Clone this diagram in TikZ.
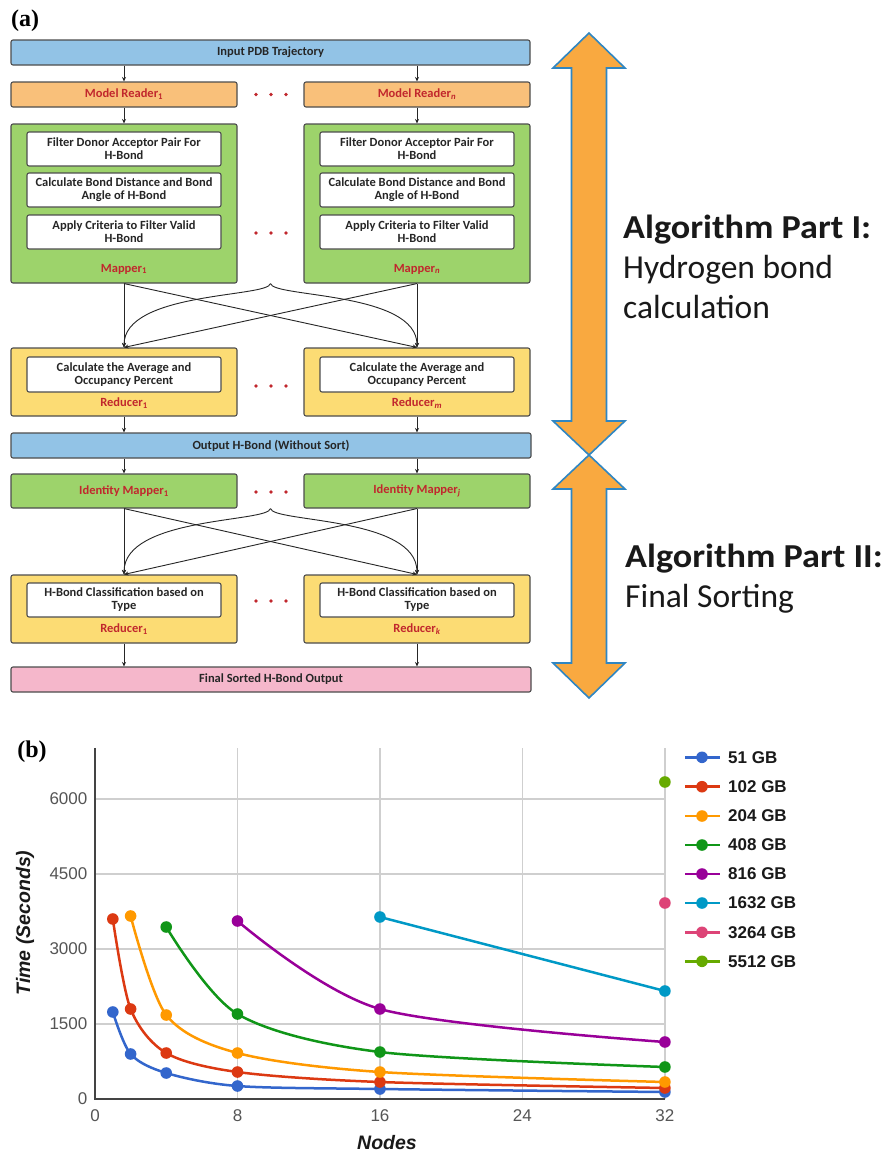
\documentclass[tikz,border=0pt]{standalone}
\usepackage{fontspec}
\setmainfont{Liberation Sans}
\newfontfamily\boxfont{Carlito}
\newfontfamily\algobf[FakeStretch=1.08]{Carlito Bold}
\newfontfamily\serfont{Liberation Serif}
\usetikzlibrary{arrows.meta,calc}
\definecolor{bordc}{HTML}{4D4D4D}
\definecolor{bluebox}{HTML}{92C3E6}
\definecolor{orbox}{HTML}{F9C07A}
\definecolor{grbox}{HTML}{9DD36B}
\definecolor{yebox}{HTML}{FCDC74}
\definecolor{pibox}{HTML}{F5B7CB}
\definecolor{redc}{HTML}{C1272D}
\definecolor{txtc}{HTML}{262626}
\definecolor{bigfill}{HTML}{F9A940}
\definecolor{bigline}{HTML}{2F86C2}
\definecolor{gridc}{HTML}{CFCFCF}
\definecolor{axisc}{HTML}{444444}
\definecolor{tickc}{HTML}{555555}
\definecolor{cA}{HTML}{3366CC}
\definecolor{cB}{HTML}{DC3912}
\definecolor{cC}{HTML}{FF9900}
\definecolor{cD}{HTML}{109618}
\definecolor{cE}{HTML}{990099}
\definecolor{cF}{HTML}{0099C6}
\definecolor{cG}{HTML}{DD4477}
\definecolor{cH}{HTML}{66AA00}
\tikzset{
  box/.style={draw=bordc, line width=1.1pt, rounded corners=2pt, inner sep=0pt,
    text=txtc, font=\boxfont\bfseries\fontsize{12.5}{13}\selectfont},
  wide/.style={box, minimum width=519pt, minimum height=25pt},
  half/.style={box, minimum width=226pt},
  inbox/.style={box, fill=white, minimum width=194pt, minimum height=34pt, align=center},
  lbl/.style={text=redc, font=\boxfont\bfseries\fontsize{12.5}{13}\selectfont, inner sep=0pt},
  arr/.style={-{Stealth[length=4.5pt,width=4pt]}, line width=0.9pt, draw=black!85},
  dotm/.style={fill=redc},
  bigarrow/.style={fill=bigfill, draw=bigline, line width=1.6pt, line join=miter},
  algo/.style={font=\boxfont\fontsize{33.5}{40}\selectfont, text=black!90, inner sep=0pt},
  algob/.style={font=\algobf\fontsize{33.5}{40}\selectfont, text=black!90, inner sep=0pt},
  grid/.style={draw=gridc, line width=1.3pt},
  axisl/.style={draw=axisc, line width=1.5pt},
  tick/.style={font=\fontsize{17}{20}\selectfont, text=tickc, inner sep=0pt},
  ser/.style={line width=2.5pt},
  leg/.style={font=\bfseries\fontsize{17}{20}\selectfont, text=black!90, inner sep=0pt, anchor=west},
  axt/.style={font=\bfseries\itshape\fontsize{19.5}{22}\selectfont, text=black!90, inner sep=0pt},
  panel/.style={font=\serfont\bfseries\fontsize{24}{26}\selectfont, inner sep=0pt}
}
\begin{document}
\begin{tikzpicture}[x=1pt,y=-1pt]
\useasboundingbox (0,0) rectangle (885,1154);
\fill[white] (0,0) rectangle (885,1154);

% ---------- panel (a) ----------
\node[panel] (pa) at (25,21) {(a)};

\node[wide, fill=bluebox] (in) at (270.5,52.5) {Input PDB Trajectory};
\node[half, fill=orbox, minimum height=25pt, text=redc] (mr1) at (124,94.5) {Model Reader\textsubscript{1}};
\node[half, fill=orbox, minimum height=25pt, text=redc] (mrn) at (417,94.5) {Model Reader\textsubscript{\itshape n}};

\node[half, fill=grbox, minimum height=159pt] (map1) at (124,203.5) {};
\node[half, fill=grbox, minimum height=159pt] (mapn) at (417,203.5) {};
\node[inbox] (f1a) at (124,149) {Filter Donor Acceptor Pair For\\H-Bond};
\node[inbox] (f1b) at (124,190) {Calculate Bond Distance and Bond\\Angle of H-Bond};
\node[inbox] (f1c) at (124,232) {Apply Criteria to Filter Valid\\H-Bond};
\node[inbox] (fna) at (417,149) {Filter Donor Acceptor Pair For\\H-Bond};
\node[inbox] (fnb) at (417,190) {Calculate Bond Distance and Bond\\Angle of H-Bond};
\node[inbox] (fnc) at (417,232) {Apply Criteria to Filter Valid\\H-Bond};
\node[lbl] (ml1) at (124,269) {Mapper\textsubscript{1}};
\node[lbl] (mln) at (417,269) {Mapper\textsubscript{\itshape n}};

\node[half, fill=yebox, minimum height=68pt] (red1) at (124,382) {};
\node[half, fill=yebox, minimum height=68pt] (redm) at (417,382) {};
\node[inbox, minimum height=35pt] (c1) at (124,374.5) {Calculate the Average and\\Occupancy Percent};
\node[inbox, minimum height=35pt] (cm) at (417,374.5) {Calculate the Average and\\Occupancy Percent};
\node[lbl] (rl1) at (124,403) {Reducer\textsubscript{1}};
\node[lbl] (rlm) at (417,403) {Reducer\textsubscript{\itshape m}};

\node[wide, fill=bluebox, minimum width=520pt] (out) at (271,445.5) {Output H-Bond (Without Sort)};

\node[half, fill=grbox, minimum height=34pt, text=redc] (im1) at (124,491) {Identity Mapper\textsubscript{1}};
\node[half, fill=grbox, minimum height=34pt, text=redc] (imj) at (417,491) {Identity Mapper\textsubscript{\itshape j}};

\node[half, fill=yebox, minimum height=68pt] (rs1) at (124,609) {};
\node[half, fill=yebox, minimum height=68pt] (rsk) at (417,609) {};
\node[inbox] (h1) at (124,600) {H-Bond Classification based on\\Type};
\node[inbox] (hk) at (417,600) {H-Bond Classification based on\\Type};
\node[lbl] (sl1) at (124,629) {Reducer\textsubscript{1}};
\node[lbl] (slk) at (417,629) {Reducer\textsubscript{\itshape k}};

\node[wide, fill=pibox, minimum width=520pt] (fin) at (271,679.5) {Final Sorted H-Bond Output};

% dots
\foreach \yy in {94.5,233,386,492,601}{
  \foreach \xx in {256,271,286}{
    \fill[dotm] (\xx,\yy) circle[radius=1.8pt];
  }
}

% vertical arrows
\draw[arr] (in.south -| mr1.north) -- (mr1.north);
\draw[arr] (in.south -| mrn.north) -- (mrn.north);
\draw[arr] (mr1.south) -- (map1.north);
\draw[arr] (mrn.south) -- (mapn.north);
\draw[arr] (red1.south) -- (out.north -| red1.south);
\draw[arr] (redm.south) -- (out.north -| redm.south);
\draw[arr] (out.south -| im1.north) -- (im1.north);
\draw[arr] (out.south -| imj.north) -- (imj.north);
\draw[arr] (rs1.south) -- (fin.north -| rs1.south);
\draw[arr] (rsk.south) -- (fin.north -| rsk.south);

% shuffle stage 1
\coordinate (cus1) at ($(map1.south)!0.5!(mapn.south)$);
\draw[arr] (map1.south) -- (red1.north);
\draw[arr] (map1.south) -- (redm.north);
\draw[arr] (mapn.south) -- (red1.north);
\draw[arr] (mapn.south) -- (redm.north);
\draw[arr] (cus1) .. controls ($(cus1)+(-2,14)$) and ($(red1.north)+(0,-56)$) .. (red1.north);
\draw[arr] (cus1) .. controls ($(cus1)+(2,14)$) and ($(redm.north)+(0,-56)$) .. (redm.north);

% shuffle stage 2
\coordinate (cus2) at ($(im1.south)!0.5!(imj.south)$);
\draw[arr] (im1.south) -- (rs1.north);
\draw[arr] (im1.south) -- (rsk.north);
\draw[arr] (imj.south) -- (rs1.north);
\draw[arr] (imj.south) -- (rsk.north);
\draw[arr] (cus2) .. controls ($(cus2)+(-2,14)$) and ($(rs1.north)+(0,-58)$) .. (rs1.north);
\draw[arr] (cus2) .. controls ($(cus2)+(2,14)$) and ($(rsk.north)+(0,-58)$) .. (rsk.north);

% big double arrows
\draw[bigarrow] (589,33) -- (625,68) -- (606.5,68) -- (606.5,421) -- (625,421) -- (589,455)
  -- (553,421) -- (571.5,421) -- (571.5,68) -- (553,68) -- cycle;
\draw[bigarrow] (589,455) -- (625,489) -- (606.5,489) -- (606.5,663) -- (625,663) -- (589,698)
  -- (553,663) -- (571.5,663) -- (571.5,489) -- (553,489) -- cycle;

\node[algob, anchor=base west] (p1a) at (623,238) {Algorithm Part I:};
\node[algo, anchor=base west] (p1b) at (623,278) {Hydrogen bond};
\node[algo, anchor=base west] (p1c) at (623,318) {calculation};
\node[algob, anchor=base west] (p2a) at (625,567) {Algorithm Part II:};
\node[algo, anchor=base west] (p2b) at (625,607) {Final Sorting};

% ---------- panel (b) ----------
\node[panel] (pb) at (32,752) {(b)};

\begin{scope}[xshift=95pt, yshift=-1099pt, x=17.81pt, y=0.05pt]
  \foreach \v in {1500,3000,4500,6000} \draw[grid] (0,\v) -- (32,\v);
  \foreach \n in {8,16,24,32} \draw[grid] (\n,0) -- (\n,7020);
  \draw[axisl] (0,7020) -- (0,0) -- (32,0);
  \foreach \v in {0,1500,3000,4500,6000} \node[tick, anchor=east] (yt\v) at (-0.42,\v) {\v};
  \foreach \n in {0,8,16,24,32} \node[tick] (xt\n) at (\n,-340) {\n};

  \draw[ser, cA] plot[smooth, tension=0.5] coordinates {(1,1740) (2,900) (4,520) (8,260) (16,200) (32,140)};
  \foreach \p in {(1,1740),(2,900),(4,520),(8,260),(16,200),(32,140)} \fill[cA] \p circle[radius=5.8pt];
  \draw[ser, cB] plot[smooth, tension=0.5] coordinates {(1,3600) (2,1800) (4,920) (8,540) (16,340) (32,220)};
  \foreach \p in {(1,3600),(2,1800),(4,920),(8,540),(16,340),(32,220)} \fill[cB] \p circle[radius=5.8pt];
  \draw[ser, cC] plot[smooth, tension=0.5] coordinates {(2,3660) (4,1680) (8,920) (16,540) (32,340)};
  \foreach \p in {(2,3660),(4,1680),(8,920),(16,540),(32,340)} \fill[cC] \p circle[radius=5.8pt];
  \draw[ser, cD] plot[smooth, tension=0.5] coordinates {(4,3440) (8,1700) (16,940) (32,640)};
  \foreach \p in {(4,3440),(8,1700),(16,940),(32,640)} \fill[cD] \p circle[radius=5.8pt];
  \draw[ser, cE] plot[smooth, tension=0.5] coordinates {(8,3560) (16,1800) (32,1140)};
  \foreach \p in {(8,3560),(16,1800),(32,1140)} \fill[cE] \p circle[radius=5.8pt];
  \draw[ser, cF] (16,3640) -- (32,2160);
  \foreach \p in {(16,3640),(32,2160)} \fill[cF] \p circle[radius=5.8pt];
  \fill[cG] (32,3920) circle[radius=5.8pt];
  \fill[cH] (32,6340) circle[radius=5.8pt];
\end{scope}

\node[axt, rotate=90] (ylab) at (25,923) {Time (Seconds)};
\node[axt] (xlab) at (387,1143) {Nodes};

% legend
\foreach \c/\yy/\t [count=\i] in {cA/757.3/51 GB, cB/786.7/102 GB, cC/816/204 GB, cD/845/408 GB,
   cE/874/816 GB, cF/903/1632 GB, cG/932.3/3264 GB, cH/961.3/5512 GB}{
  \draw[ser, \c] (685,\yy) -- (720,\yy);
  \fill[\c] (702,\yy) circle[radius=5.8pt];
  \node[leg] (lg\i) at (728,\yy) {\t};
}
\end{tikzpicture}
\end{document}
